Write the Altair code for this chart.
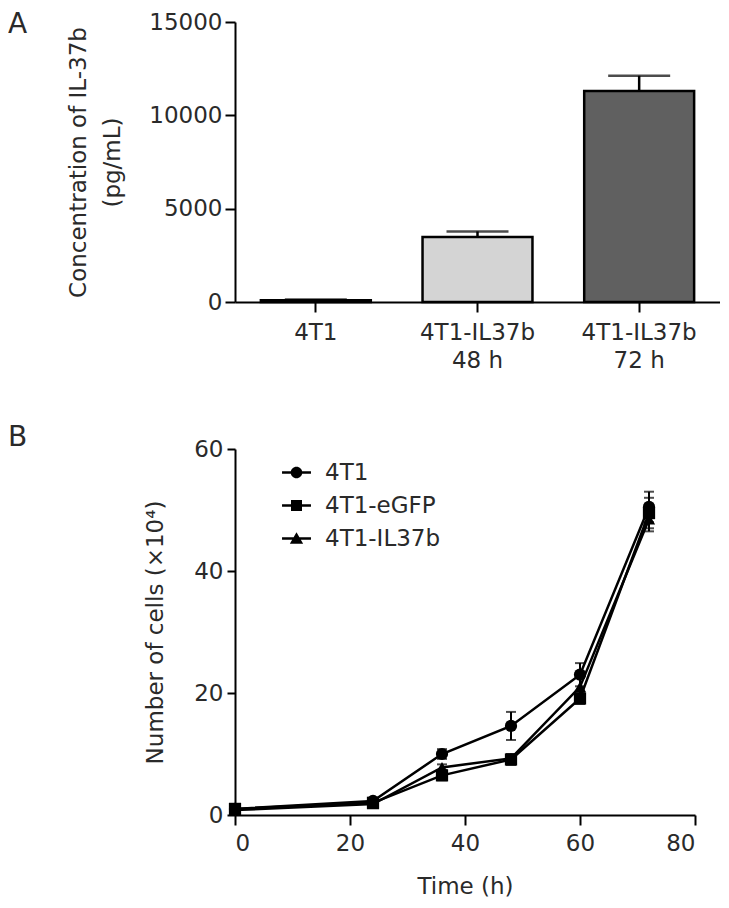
import altair as alt
import pandas as pd

# ---------------- Panel A data ----------------
groups = ["4T1", "4T1-IL37b\n48 h", "4T1-IL37b\n72 h"]
conc_mean = [100, 3480, 11300]
conc_sd = [40, 300, 820]
bar_fill = ["#000000", "#d4d4d4", "#606060"]

# ---------------- Panel B data ----------------
time_h = [0, 24, 36, 48, 60, 72]
series_names = ["4T1", "4T1-eGFP", "4T1-IL37b"]
cells_4t1 = [1.0, 2.3, 10.0, 14.6, 23.0, 50.5]
sd_4t1 = [0.3, 0.4, 0.8, 2.3, 1.9, 2.5]
cells_egfp = [1.0, 2.0, 6.5, 9.1, 19.1, 49.5]
sd_egfp = [0.3, 0.3, 0.8, 0.9, 0.9, 2.5]
cells_il37b = [0.8, 1.8, 7.8, 9.3, 21.0, 48.5]
sd_il37b = [0.3, 0.3, 0.5, 0.6, 1.5, 2.0]

FONT = "DejaVu Sans"
TXT = "#2a2a2a"

dfA = pd.DataFrame({"group": groups, "mean": conc_mean, "sd": conc_sd})
dfA["upper"] = dfA["mean"] + dfA["sd"]

rows = []
for name, vals, sds in [("4T1", cells_4t1, sd_4t1), ("4T1-eGFP", cells_egfp, sd_egfp),
                        ("4T1-IL37b", cells_il37b, sd_il37b)]:
    for t, v, s in zip(time_h, vals, sds):
        rows.append({"series": name, "time": t, "value": v, "lo": v - s, "hi": v + s})
dfB = pd.DataFrame(rows)

# ---------------- Panel A ----------------
xA = alt.X("group:N", sort=groups, title=None,
           scale=alt.Scale(paddingInner=0.32, paddingOuter=0.16),
           axis=alt.Axis(labelAngle=0, labelExpr="split(datum.label, '\\n')",
                         labelLineHeight=28, labelPadding=9, tickSize=10,
                         labelBaseline="top"))
yA = alt.Y("mean:Q", scale=alt.Scale(domain=[0, 15000], nice=False),
           title=["Concentration of IL-37b", "(pg/mL)"],
           axis=alt.Axis(values=[0, 5000, 10000, 15000], format="d", tickSize=10, labelPadding=3,
                         titlePadding=24, titleLineHeight=34, grid=False))

bars = alt.Chart(dfA).mark_bar(stroke="black", strokeWidth=2.5).encode(
    x=xA, y=yA,
    color=alt.Color("group:N", scale=alt.Scale(domain=groups, range=bar_fill), legend=None),
)
err_rule = alt.Chart(dfA).mark_rule(color="black", strokeWidth=2.5).encode(
    x=alt.X("group:N", sort=groups), y="mean:Q", y2="upper:Q")
err_cap = alt.Chart(dfA).mark_tick(color="black", thickness=2.5, size=62, orient="horizontal").encode(
    x=alt.X("group:N", sort=groups), y="upper:Q")

panelA = alt.layer(bars, err_rule, err_cap).properties(
    width=485, height=280,
    title=alt.TitleParams("A", anchor="start", frame="group", dx=-227, dy=28, offset=0,
                          fontSize=28, font=FONT, fontWeight="normal", color=TXT),
)

# ---------------- Panel B ----------------
xB = alt.X("time:Q", title="Time (h)", scale=alt.Scale(domain=[0, 80], nice=False),
           axis=alt.Axis(values=[0, 20, 40, 60, 80], tickSize=10, labelPadding=7,
                         titlePadding=20, grid=False))
yB = alt.Y("value:Q", title="Number of cells (×10⁴)", scale=alt.Scale(domain=[0, 60], nice=False),
           axis=alt.Axis(values=[0, 20, 40, 60], tickSize=8, labelPadding=4,
                         titlePadding=26, grid=False))

shape_scale = alt.Scale(domain=series_names, range=["circle", "square", "triangle-up"])

# legend symbols: a short horizontal bar with the marker on it (all filled, clockwise)
legend_paths = [
    "M-2.5,-0.2H2.5V0.2H-2.5Z M-1,0A1,1 0 1,1 1,0A1,1 0 1,1 -1,0Z",
    "M-2.5,-0.2H2.5V0.2H-2.5Z M-0.95,-0.95H0.95V0.95H-0.95Z",
    "M-2.5,-0.2H2.5V0.2H-2.5Z M0,-1.1L1.15,0.9H-1.15Z",
]

lines = alt.Chart(dfB).mark_line(color="black", strokeWidth=2.5).encode(
    x=xB, y=yB, detail="series:N")
err_b = alt.Chart(dfB).mark_rule(color="black", strokeWidth=2).encode(
    x="time:Q", y="lo:Q", y2="hi:Q")
cap_hi = alt.Chart(dfB).mark_tick(color="black", thickness=2, size=10, orient="horizontal").encode(
    x="time:Q", y="hi:Q")
cap_lo = alt.Chart(dfB).mark_tick(color="black", thickness=2, size=10, orient="horizontal").encode(
    x="time:Q", y="lo:Q")
pts = alt.Chart(dfB).mark_point(filled=True, color="black", size=150, opacity=1).encode(
    x="time:Q", y="value:Q",
    shape=alt.Shape("series:N", scale=shape_scale, legend=None))
legend_layer = alt.Chart(dfB).transform_filter("false").mark_point(
    filled=True, color="black", opacity=1).encode(
    x="time:Q", y="value:Q",
    shape=alt.Shape("series:N", scale=alt.Scale(domain=series_names, range=legend_paths),
                    title=None,
                    legend=alt.Legend(orient="none", legendX=50, legendY=12,
                                      symbolSize=134, symbolFillColor="black",
                                      symbolOpacity=1,
                                      labelFont=FONT, labelFontSize=23, labelColor=TXT,
                                      labelOffset=17, rowPadding=9)))

panelB = alt.layer(lines, err_b, cap_hi, cap_lo, pts, legend_layer).resolve_scale(
    shape="independent").properties(
    width=460, height=366,
    title=alt.TitleParams("B", anchor="start", frame="group", dx=-227, dy=14, offset=0,
                          fontSize=28, font=FONT, fontWeight="normal", color=TXT),
)

chart = alt.vconcat(panelA, panelB, spacing=52).properties(
    padding={"left": 0, "right": 0, "top": 3, "bottom": 0}
).configure_view(stroke=None).configure_axis(
    domainColor="black", domainWidth=2, tickColor="black", tickWidth=2,
    labelFont=FONT, labelFontSize=23, labelColor=TXT,
    titleFont=FONT, titleFontSize=23, titleColor=TXT, titleFontWeight="normal",
)

chart.save("out.html", embed_options={"renderer": "svg", "actions": False})
